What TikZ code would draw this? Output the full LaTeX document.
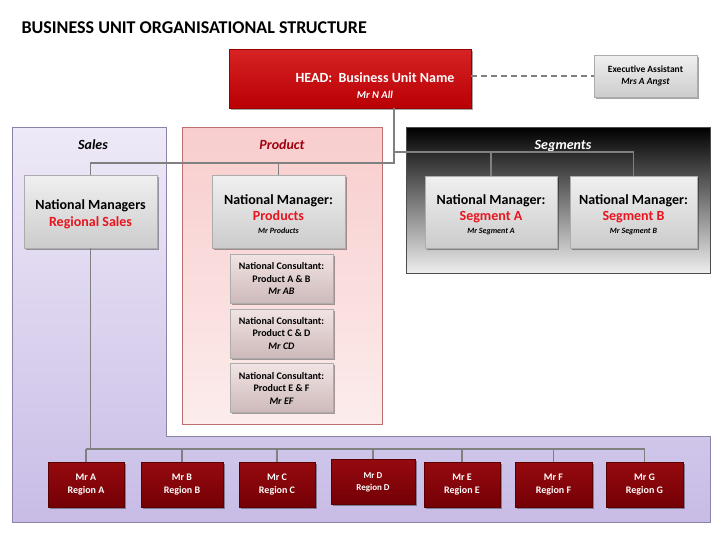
\documentclass[tikz,border=0pt]{standalone}
\usepackage{fontspec}
\setmainfont{Carlito}
\usetikzlibrary{shadows}
\definecolor{conn}{HTML}{808080}
\definecolor{hired}{HTML}{E8141E}
\definecolor{prodred}{HTML}{A00010}
\newcommand{\pushdown}[1]{\rule{0pt}{#1}}
\tikzset{
  conn/.style={draw=conn, line width=1.1pt},
  shadowed/.style={drop shadow={shadow xshift=1.5pt, shadow yshift=-1.5pt, opacity=0.35, fill=black}},
  graybox/.style={shadowed, draw=gray!65, top color=gray!12, bottom color=gray!40, align=center, inner sep=1pt, font=\bfseries},
  consbox/.style={shadowed, draw=gray!65, top color={rgb,255:red,242;green,228;blue,228}, bottom color={rgb,255:red,205;green,185;blue,185}, align=center, inner sep=1pt, font=\bfseries\fontsize{10}{12.5}\selectfont, minimum width=103pt, minimum height=49pt},
  regbox/.style={shadowed, draw={rgb,255:red,90;green,0;blue,0}, top color={rgb,255:red,150;green,10;blue,15}, bottom color={rgb,255:red,115;green,0;blue,5}, text=white, align=center, font=\bfseries\fontsize{10}{13}\selectfont, minimum height=45pt},
  areatitle/.style={font=\bfseries\itshape\fontsize{14}{16}\selectfont},
}
\begin{document}
\begin{tikzpicture}[x=1pt,y=-1pt]
\useasboundingbox (0,0) rectangle (728,546);
% background areas
\shade[top color={rgb,255:red,238;green,233;blue,247}, bottom color={rgb,255:red,200;green,188;blue,230}, draw={rgb,255:red,140;green,130;blue,170}]
  (12,127) -- (166,127) -- (166,436) -- (710,436) -- (710,522) -- (12,522) -- cycle;
\shade[top color={rgb,255:red,248;green,205;blue,205}, bottom color={rgb,255:red,252;green,236;blue,236}, draw={rgb,255:red,190;green,110;blue,110}]
  (182,127) rectangle (382,424);
\shade[top color=black, middle color={rgb,255:red,75;green,75;blue,75}, bottom color={rgb,255:red,238;green,238;blue,238}, draw=gray!60!black]
  (406,127) rectangle (710,273);
% title
\node[anchor=west, font=\bfseries\fontsize{18}{21}\selectfont] (title) at (18,28) {BUSINESS UNIT ORGANISATIONAL STRUCTURE};
% area titles
\node[areatitle] (tsales) at (93,145) {Sales};
\node[areatitle, text=prodred] (tprod) at (282,145) {Product};
\node[areatitle, text=white] (tseg) at (563,146) {Segments};
% head
\node[shadowed, draw={rgb,255:red,150;green,0;blue,0}, top color={rgb,255:red,215;green,35;blue,35}, bottom color={rgb,255:red,185;green,0;blue,5}, minimum width=242pt, minimum height=59pt] (head) at (350,78.5) {};
\node[text=white, align=center, font=\bfseries\fontsize{14}{17}\selectfont] (headtxt) at (375,85.5) {HEAD:\ \ Business Unit Name\\[-1pt] {\itshape\fontsize{10.5}{12}\selectfont Mr N All}};
% executive assistant
\node[graybox, minimum width=103pt, minimum height=42pt, font=\bfseries\fontsize{9.5}{12}\selectfont] (exec) at (645.5,76) {Executive Assistant\\ {\itshape Mrs A Angst}};
% managers
\node[graybox, minimum width=133pt, minimum height=73pt, font=\bfseries\fontsize{14}{17}\selectfont] (sm) at (90.5,211.5) {\pushdown{16pt}National Managers\\ \textcolor{hired}{Regional Sales}};
\node[graybox, minimum width=133pt, minimum height=73pt, font=\bfseries\fontsize{14}{16}\selectfont] (pm) at (278.5,211.5) {\pushdown{16pt}National Manager:\\ \textcolor{hired}{Products}\\[-3pt] {\itshape\fontsize{8}{10}\selectfont Mr Products}};
\node[graybox, minimum width=132pt, minimum height=72pt, font=\bfseries\fontsize{14}{16}\selectfont] (sa) at (491,212) {\pushdown{15pt}National Manager:\\ \textcolor{hired}{Segment A}\\[-3pt] {\itshape\fontsize{8}{10}\selectfont Mr Segment A}};
\node[graybox, minimum width=127pt, minimum height=72pt, font=\bfseries\fontsize{14}{16}\selectfont] (sb) at (633.5,212) {\pushdown{15pt}National Manager:\\ \textcolor{hired}{Segment B}\\[-3pt] {\itshape\fontsize{8}{10}\selectfont Mr Segment B}};
% consultants
\node[consbox] (c1) at (281.5,278.5) {National Consultant:\\ Product A \& B\\ {\itshape Mr AB}};
\node[consbox] (c2) at (281.5,333.5) {National Consultant:\\ Product C \& D\\ {\itshape Mr CD}};
\node[consbox] (c3) at (281.5,388) {National Consultant:\\ Product E \& F\\ {\itshape Mr EF}};
% regions
\node[regbox, minimum width=76pt] (rA) at (86,484.5) {Mr A\\ Region A};
\node[regbox, minimum width=82pt] (rB) at (182,484.5) {Mr B\\ Region B};
\node[regbox, minimum width=76pt] (rC) at (277,484.5) {Mr C\\ Region C};
\node[regbox, minimum width=84pt, font=\bfseries\fontsize{9}{12}\selectfont] (rD) at (373,482) {Mr D\\ Region D};
\node[regbox, minimum width=76pt] (rE) at (462,484.5) {Mr E\\ Region E};
\node[regbox, minimum width=77pt] (rF) at (553.5,484.5) {Mr F\\ Region F};
\node[regbox, minimum width=77pt] (rG) at (644.5,484.5) {Mr G\\ Region G};
% connectors
\coordinate (j1) at (394,163);
\coordinate (j2) at (394,152);
\coordinate (bus) at (0,449);
\draw[conn] (head.south -| j1) -- (j1) -| (sm.north);
\draw[conn] (j1 -| pm.north) -- (pm.north);
\draw[conn] (j2) -| (sb.north);
\draw[conn] (j2 -| sa.north) -- (sa.north);
\draw[conn, dashed, dash pattern=on 6pt off 4pt] (head.east |- exec.west) -- (exec.west);
\draw[conn] (sm.south) -- (sm.south |- bus);
\draw[conn] (rA.north |- bus) -- (rG.north |- bus);
\foreach \r in {rA,rB,rC,rD,rE,rF,rG} { \draw[conn] (\r.north |- bus) -- (\r.north); }
\end{tikzpicture}
\end{document}
